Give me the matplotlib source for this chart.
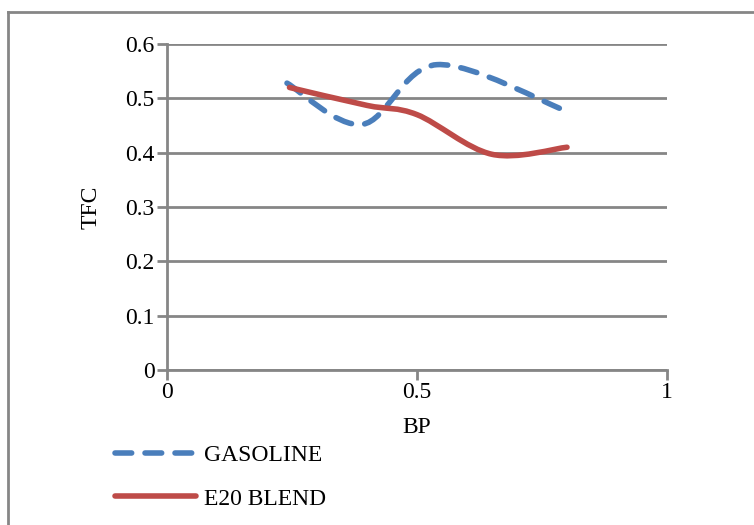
import numpy as np
import matplotlib
matplotlib.use("Agg")
import matplotlib.pyplot as plt
from matplotlib.path import Path
from matplotlib.patches import PathPatch
from matplotlib.lines import Line2D

# data
bp_gasoline = [0.24, 0.39, 0.54, 0.80]
tfc_gasoline = [0.528, 0.452, 0.562, 0.476]
bp_e20 = [0.245, 0.40, 0.50, 0.65, 0.80]
tfc_e20 = [0.520, 0.487, 0.470, 0.397, 0.410]

x_ticks = [0, 0.5, 1]
y_ticks = [0, 0.1, 0.2, 0.3, 0.4, 0.5, 0.6]

blue = "#4a7ebb"
red = "#be4b48"
grid_c = "#868686"
dash = (0, (3.0, 2.4))

plt.rcParams["font.family"] = ["Liberation Serif", "DejaVu Serif"]


def smooth_path(xs, ys):
    # excel-like smoothed line: bezier control points from neighbours
    pts = np.column_stack([xs, ys])
    n = len(pts)
    verts = [pts[0]]
    codes = [Path.MOVETO]
    for i in range(n - 1):
        p0 = pts[max(i - 1, 0)]
        p1 = pts[i]
        p2 = pts[i + 1]
        p3 = pts[min(i + 2, n - 1)]
        c1 = p1 + (p2 - p0) / 6.0
        c2 = p2 - (p3 - p1) / 6.0
        verts += [c1, c2, p2]
        codes += [Path.CURVE4] * 3
    return Path(verts, codes)


fig = plt.figure(figsize=(7.54, 5.25), dpi=100)
ax = fig.add_axes([167 / 754, 1 - 370 / 525, 500 / 754, 326 / 525])

ax.set_xlim(0, 1)
ax.set_ylim(0, 0.6)
ax.set_xticks(x_ticks)
ax.set_xticklabels(["0", "0.5", "1"])
ax.set_yticks(y_ticks)
ax.set_yticklabels(["0", "0.1", "0.2", "0.3", "0.4", "0.5", "0.6"])
ax.yaxis.grid(True, color=grid_c, linewidth=2)
ax.set_axisbelow(True)
for s in ["top", "right"]:
    ax.spines[s].set_visible(False)
for s in ["left", "bottom"]:
    ax.spines[s].set_color(grid_c)
    ax.spines[s].set_linewidth(2)
ax.tick_params(axis="both", colors=grid_c, width=2, length=7, labelsize=17,
               labelcolor="black", pad=2)

ax.add_patch(PathPatch(smooth_path(bp_gasoline, tfc_gasoline), fill=False,
                       edgecolor=blue, linewidth=4, linestyle=dash,
                       capstyle="round"))
ax.add_patch(PathPatch(smooth_path(bp_e20, tfc_e20), fill=False,
                       edgecolor=red, linewidth=4, capstyle="round"))

ax.set_xlabel("BP", fontsize=17, labelpad=10)
ax.set_ylabel("TFC", fontsize=17, labelpad=17)

handles = [Line2D([], [], color=blue, linewidth=4, linestyle=dash,
                  dash_capstyle="round"),
           Line2D([], [], color=red, linewidth=4, solid_capstyle="round")]
fig.legend(handles, ["GASOLINE", "E20 BLEND"], loc="upper left",
           bbox_to_anchor=(94 / 754, 1 - 423 / 525), frameon=False,
           fontsize=17, handlelength=3.4, handletextpad=0.35, labelspacing=0.95)

# outer frame
fig.add_artist(Line2D([8 / 754, 8 / 754], [0, 1 - 12 / 525], color=grid_c,
                      linewidth=2, transform=fig.transFigure))
fig.add_artist(Line2D([8 / 754, 1], [1 - 12 / 525, 1 - 12 / 525], color=grid_c,
                      linewidth=2, transform=fig.transFigure))

fig.savefig("out.png", dpi=100)
